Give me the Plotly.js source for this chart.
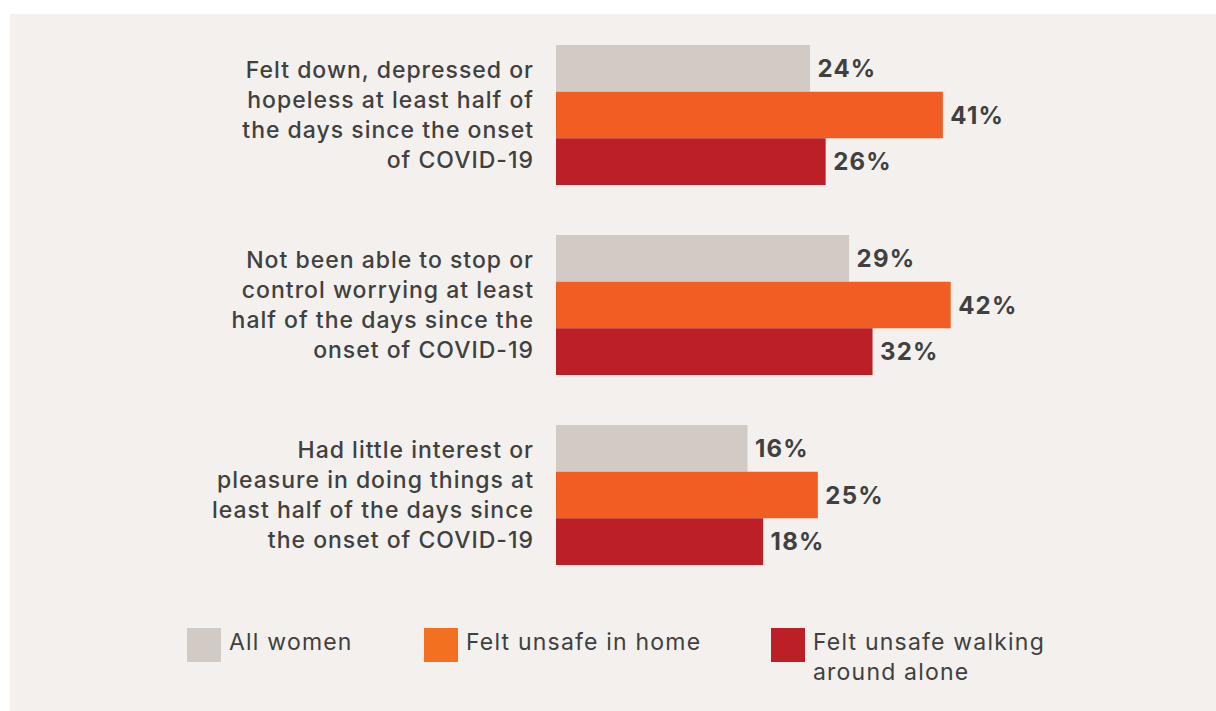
<!DOCTYPE html>
<html>
<head>
<meta charset="utf-8">
<script src="https://cdn.plot.ly/plotly-3.0.1.min.js"></script>
<style>
  html, body { margin: 0; padding: 0; background: #ffffff; }
  #chart { position: absolute; left: 10px; top: 14px; width: 1206px; height: 697px; }
  /* the original face is wider than anything installed */
  #chart .ytick text { letter-spacing: 1px; }
  #chart .bartext { letter-spacing: 1.2px; }
  #chart .annotation-text { letter-spacing: 1.2px; }
</style>
</head>
<body>
<div id="chart"></div>
<script>
// chart data
const categories = [
  'Felt down, depressed or<br>hopeless at least half of<br>the days since the onset<br>of COVID-19',
  'Not been able to stop or<br>control worrying at least<br>half of the days since the<br>onset of COVID-19',
  'Had little interest or<br>pleasure in doing things at<br>least half of the days since<br>the onset of COVID-19'
];
const seriesNames = ['All women', 'Felt unsafe in home', 'Felt unsafe walking<br>around alone'];
const allWomen = [24, 29, 16];
const unsafeHome = [41, 42, 25];
const unsafeWalking = [26, 32, 18];

const barColors = ['#d2cac5', '#f15d22', '#bc2026'];
const legendColors = ['#d2cac5', '#f37021', '#bc2026'];
const textColor = '#404040';
const fontFamily = 'Inter, "Open Sans", sans-serif';

// the original bars do not start at zero
const axisStart = -8.5;

const W = 1206, H = 697;
const margin = { l: 546, r: 66, t: 6, b: 121 };
const px = x => (x - margin.l) / (W - margin.l - margin.r);
const py = y => 1 - (y - margin.t) / (H - margin.t - margin.b);

const series = [allWomen, unsafeHome, unsafeWalking];
const data = series.map((vals, i) => ({
  type: 'bar',
  orientation: 'h',
  y: categories,
  x: vals.map(v => v - axisStart),
  base: axisStart,
  name: seriesNames[i],
  marker: { color: barColors[i] },
  text: vals.map(v => '\u00a0' + v + '%'),
  textposition: 'outside',
  textfont: { family: fontFamily, size: 24, color: textColor, weight: 700 },
  cliponaxis: false,
  hoverinfo: 'skip'
}));

// legend drawn by hand to get the large swatches
const legendX = [177, 414, 761];
const shapes = [];
const annotations = [];
seriesNames.forEach((name, i) => {
  shapes.push({
    type: 'rect', xref: 'paper', yref: 'paper',
    x0: px(legendX[i]), x1: px(legendX[i] + 34),
    y0: py(614), y1: py(648),
    fillcolor: legendColors[i], line: { width: 0 }
  });
  annotations.push({
    xref: 'paper', yref: 'paper',
    x: px(legendX[i] + 40), y: py(612),
    xanchor: 'left', yanchor: 'top', align: 'left',
    text: name, showarrow: false,
    font: { family: fontFamily, size: 23, color: textColor }
  });
});

const layout = {
  width: W,
  height: H,
  margin: margin,
  paper_bgcolor: '#f3f0ed',
  plot_bgcolor: '#f3f0ed',
  barmode: 'group',
  bargap: 0.263,
  bargroupgap: 0,
  showlegend: false,
  font: { family: fontFamily, color: textColor },
  xaxis: {
    range: [axisStart, 67.5],
    visible: false,
    fixedrange: true
  },
  yaxis: {
    range: [2.5, -0.5],
    showgrid: false,
    zeroline: false,
    showline: false,
    ticks: '',
    ticklabelstandoff: 21,
    tickfont: { family: fontFamily, size: 23, color: textColor, weight: 500 },
    fixedrange: true
  },
  shapes: shapes,
  annotations: annotations
};

Plotly.newPlot('chart', data, layout, { displayModeBar: false, staticPlot: true });
</script>
</body>
</html>
